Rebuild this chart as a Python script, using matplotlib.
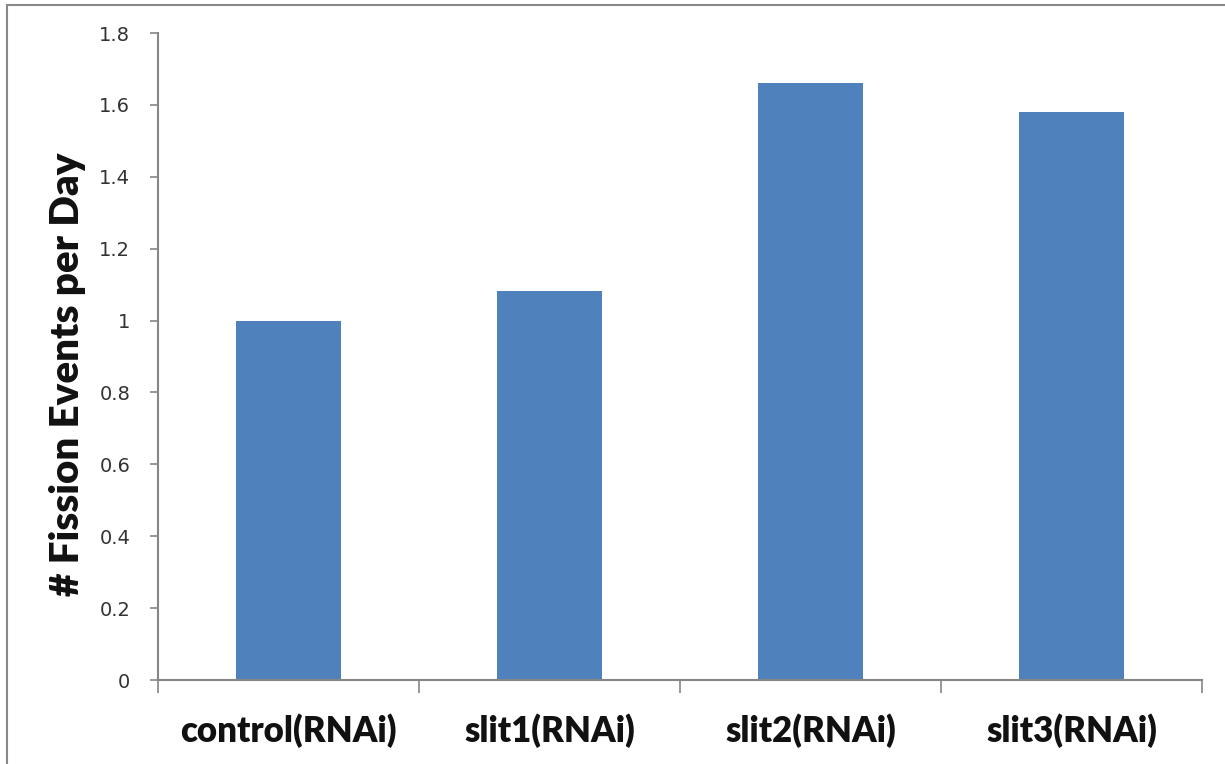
import matplotlib

matplotlib.use('Agg')

import numpy as np
import matplotlib.pyplot as plt
from matplotlib.patches import Rectangle

categories = ['control(RNAi)', 'slit1(RNAi)', 'slit2(RNAi)', 'slit3(RNAi)']
values = [1.0, 1.083, 1.662, 1.579]
yticks = [0, 0.2, 0.4, 0.6, 0.8, 1.0, 1.2, 1.4, 1.6, 1.8]
ytick_labels = ['0', '0.2', '0.4', '0.6', '0.8', '1', '1.2', '1.4', '1.6', '1.8']

bar_color = '#4f81bd'
axis_color = '#868686'

fig = plt.figure(figsize=(12.25, 7.64), dpi=100)
ax = fig.add_axes([158 / 1225, 1 - 680 / 764, (1202 - 158) / 1225, (680 - 33) / 764])

x = np.arange(len(categories))
ax.bar(x, values, width=0.4, color=bar_color, zorder=2)

ax.set_xlim(-0.5, len(categories) - 0.5)
ax.set_ylim(0, 1.8)
ax.set_yticks(yticks)
ax.set_yticklabels(ytick_labels, fontsize=14, color='#333333', family='DejaVu Sans')

# category boundary ticks, labels placed at centres
ax.set_xticks(np.arange(len(categories) + 1) - 0.5)
ax.set_xticklabels([])
ax.set_xticks(x, minor=True)
ax.set_xticklabels(categories, minor=True, fontsize=25, fontweight='heavy',
                   family='Lato', color='#111111')
ax.tick_params(axis='x', which='minor', length=0, pad=24)
ax.tick_params(axis='x', which='major', length=9, width=1.2, color=axis_color, direction='out')
ax.tick_params(axis='y', length=6, width=1.2, color=axis_color, direction='out', pad=14)

for side in ['top', 'right']:
    ax.spines[side].set_visible(False)
for side in ['left', 'bottom']:
    ax.spines[side].set_color(axis_color)
    ax.spines[side].set_linewidth(1.5)

fig.text(68 / 1225, 1 - 374 / 764, '# Fission Events per Day', rotation=90,
         ha='center', va='center', fontsize=29, fontweight='heavy', family='Lato', color='#111111')

# outer chart frame (only top/left visible in the image)
fig.patches.append(Rectangle((7 / 1225, -0.1), 1.2, 1 - 5 / 764 + 0.1, transform=fig.transFigure,
                             fill=False, edgecolor='#888888', linewidth=1.5))

fig.savefig('out.png', dpi=100)
